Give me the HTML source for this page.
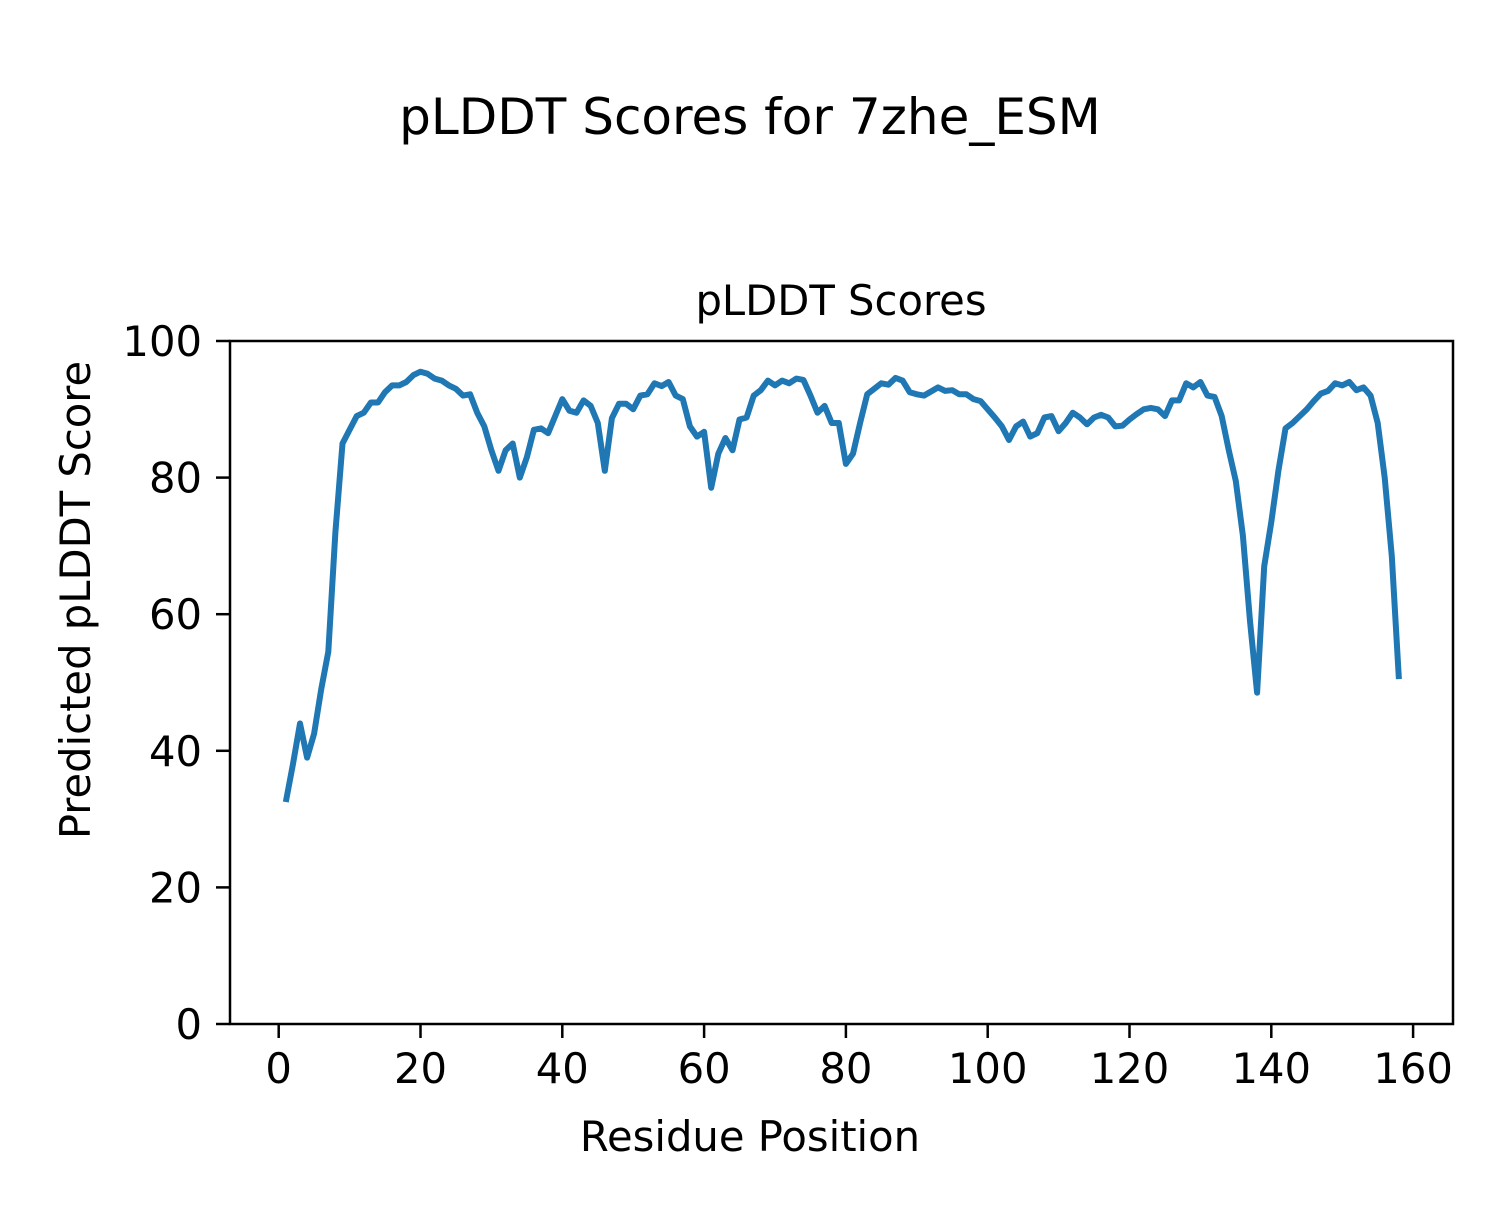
<!DOCTYPE html>
<html><head><meta charset="utf-8"><style>
body{margin:0;background:#fff}
svg text{font-family:"DejaVu Sans","Liberation Sans",sans-serif;fill:#000}
</style></head><body>
<svg id="s" width="1500" height="1200" xmlns="http://www.w3.org/2000/svg">
<rect width="1500" height="1200" fill="#fff"/>
<text x="750" y="134" font-size="50" text-anchor="middle">pLDDT Scores for 7zhe_ESM</text>
<text x="841" y="315" font-size="41.7" text-anchor="middle">pLDDT Scores</text>
<g id="ticks" stroke="#000" stroke-width="2.5"></g>
<g id="labels" font-size="41.7"></g>
<polyline id="line" fill="none" stroke="#1f77b4" stroke-width="6" stroke-linejoin="round" stroke-linecap="butt"/>
<rect x="230" y="341" width="1223" height="683" fill="none" stroke="#000" stroke-width="2.5"/>
<text x="750" y="1151" font-size="41.7" text-anchor="middle">Residue Position</text>
<text transform="translate(90,600) rotate(-90)" font-size="41.7" text-anchor="middle">Predicted pLDDT Score</text>
</svg>
<script>
var v=[32.5,38,44,39,42.5,49,54.5,72,85,87,89,89.5,91,91,92.5,93.5,93.5,94,95,95.5,95.2,94.5,94.2,93.5,93,92,92.2,89.5,87.5,84,81,84,85,80,83,87,87.2,86.5,89,91.5,89.8,89.5,91.3,90.5,88,81,88.7,90.8,90.8,90,92,92.2,93.8,93.4,94,92,91.5,87.5,86,86.7,78.5,83.5,85.8,84,88.5,88.8,92,92.8,94.2,93.5,94.2,93.8,94.5,94.3,92,89.5,90.5,88,88,82,83.5,88,92.2,93,93.8,93.6,94.6,94.2,92.5,92.2,92,92.6,93.2,92.7,92.8,92.2,92.2,91.5,91.2,90,88.8,87.5,85.5,87.5,88.2,86,86.5,88.8,89,86.8,88,89.5,88.8,87.8,88.8,89.2,88.8,87.5,87.6,88.5,89.3,90,90.2,90,89,91.3,91.3,93.8,93.2,94,92,91.8,89,84,79.5,71.5,59,48.5,67,73.5,81,87.2,88,89,90,91.2,92.3,92.7,93.8,93.5,94,92.8,93.2,92,88,80,68.5,50.5];
function X(r){return 278.7+7.09*r} function Y(p){return 1024-6.83*p}
document.getElementById('line').setAttribute('points',v.map(function(p,i){return X(i+1).toFixed(1)+','+Y(p).toFixed(1)}).join(' '));
var t='',l='';
for(var r=0;r<=160;r+=20){var x=X(r);t+='<line x1="'+x+'" x2="'+x+'" y1="1024" y2="1038"/>';l+='<text x="'+x+'" y="1083" text-anchor="middle">'+r+'</text>';}
for(var p=0;p<=100;p+=20){var y=Y(p);t+='<line x1="216" x2="230" y1="'+y+'" y2="'+y+'"/>';l+='<text x="202" y="'+(y+15)+'" text-anchor="end">'+p+'</text>';}
document.getElementById('ticks').innerHTML=t;document.getElementById('labels').innerHTML=l;
</script>
</body></html>
